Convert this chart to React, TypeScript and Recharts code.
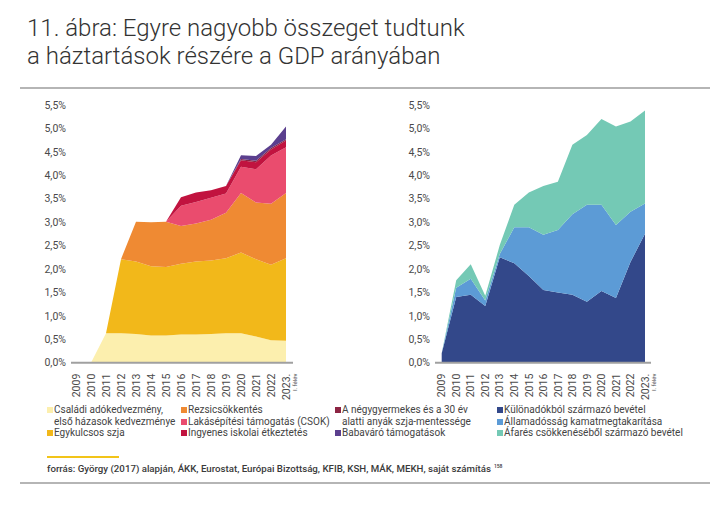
import React from 'react';
import { AreaChart, Area, XAxis, YAxis } from 'recharts';

const years = ['2009', '2010', '2011', '2012', '2013', '2014', '2015', '2016', '2017', '2018', '2019', '2020', '2021', '2022', '2023.'];
const yTicks = [0, 0.5, 1, 1.5, 2, 2.5, 3, 3.5, 4, 4.5, 5, 5.5];

// Left chart series (% of GDP)
const csaladi = [0, 0, 0.63, 0.63, 0.61, 0.58, 0.58, 0.6, 0.6, 0.61, 0.63, 0.63, 0.56, 0.48, 0.47];
const egykulcsos = [0, 0, 0, 1.58, 1.55, 1.48, 1.46, 1.51, 1.56, 1.57, 1.6, 1.72, 1.65, 1.61, 1.76];
const rezsi = [0, 0, 0, 0, 0.85, 0.94, 0.97, 0.81, 0.81, 0.87, 0.97, 1.27, 1.21, 1.3, 1.39];
const csok = [0, 0, 0, 0, 0, 0, 0, 0.43, 0.46, 0.47, 0.41, 0.56, 0.71, 1.03, 0.98];
const etkeztetes = [0, 0, 0, 0, 0, 0, 0, 0.18, 0.2, 0.16, 0.16, 0.14, 0.15, 0.13, 0.14];
const negygyermek = [0, 0, 0, 0, 0, 0, 0, 0, 0, 0, 0, 0.03, 0.03, 0.03, 0.03];
const babavaro = [0, 0, 0, 0, 0, 0, 0, 0, 0, 0, 0, 0.08, 0.1, 0.07, 0.27];

// Right chart series (% of GDP)
const kulonado = [0.2, 1.4, 1.45, 1.21, 2.25, 2.12, 1.85, 1.55, 1.5, 1.45, 1.3, 1.53, 1.38, 2.15, 2.75];
const allamadossag = [0, 0.2, 0.34, 0.12, 0.07, 0.77, 1.04, 1.18, 1.33, 1.72, 2.07, 1.84, 1.56, 1.07, 0.65];
const afa = [0, 0.16, 0.31, 0.1, 0.19, 0.48, 0.74, 1.04, 1.03, 1.48, 1.49, 1.83, 2.1, 1.93, 1.98];

const C = {
  csaladi: '#FCEFAE',
  egykulcsos: '#F2B81A',
  rezsi: '#EF8A33',
  csok: '#EA4C6E',
  etkeztetes: '#C1133F',
  negygyermek: '#8C2443',
  babavaro: '#5B3F8E',
  kulonado: '#33488A',
  allamadossag: '#5C9BD6',
  afa: '#74C9B5',
};

const leftData = years.map((y, i) => ({
  year: y,
  csaladi: csaladi[i],
  egykulcsos: egykulcsos[i],
  rezsi: rezsi[i],
  csok: csok[i],
  etkeztetes: etkeztetes[i],
  negygyermek: negygyermek[i],
  babavaro: babavaro[i],
}));

const rightData = years.map((y, i) => ({
  year: y,
  kulonado: kulonado[i],
  allamadossag: allamadossag[i],
  afa: afa[i],
}));

const FONT = 'Roboto, "DejaVu Sans", sans-serif';
const fmt = (v: number) => v.toFixed(1).replace('.', ',') + '%';

const XTick = (props: any) => {
  const { x, y, payload } = props;
  const isLast = payload.value === '2023.';
  return (
    <g transform={`translate(${x},${y})`}>
      <text transform="rotate(-90)" x={-3} y={0} dy={3.7} textAnchor="end" fontSize={10.5} fill="#4a4a4a" fontFamily={FONT}>
        {payload.value}
      </text>
      {isLast && (
        <text transform="rotate(-90)" x={-3} y={8} dy={3} textAnchor="end" fontSize={6} fill="#4a4a4a" fontFamily={FONT}>
          I. félév
        </text>
      )}
    </g>
  );
};

const yAxisProps = {
  type: 'number' as const,
  domain: [0, 5.5],
  ticks: yTicks,
  tickFormatter: fmt,
  axisLine: false,
  tickLine: false,
  tickSize: 0,
  tickMargin: 5,
  width: 30,
  interval: 0 as const,
  tick: { fontSize: 10.5, fill: '#4a4a4a', fontFamily: FONT },
};

const LegendItem = ({ x, y, color, lines }: { x: number; y: number; color?: string; lines: string[] }) => (
  <div style={{ position: 'absolute', left: x, top: y, fontFamily: FONT, fontSize: 10, color: '#444', lineHeight: '11.7px', whiteSpace: 'nowrap' }}>
    {lines.map((l, i) => (
      <div key={i} style={{ position: 'relative', paddingLeft: 7 }}>
        {i === 0 && color && (
          <span style={{ position: 'absolute', left: 0, top: 3, width: 6, height: 6, background: color }} />
        )}
        {l}
      </div>
    ))}
  </div>
);

export default function App() {
  return (
    <div style={{ position: 'absolute', left: 0, top: 0, width: 727, height: 512, background: '#fff', overflow: 'hidden' }}>
      <div style={{ position: 'absolute', left: 27, top: 14, fontFamily: FONT, fontSize: 24, color: '#333', lineHeight: '28px', fontWeight: 300 }}>
        <div>11. ábra: Egyre nagyobb összeget tudtunk</div>
        <div>a háztartások részére a GDP arányában</div>
      </div>
      <div style={{ position: 'absolute', left: 20, top: 87, width: 690, height: 2, background: '#b5b5b5' }} />

      <div style={{ position: 'absolute', left: 0, top: 0 }}>
        <AreaChart width={300} height={400} data={leftData} margin={{ top: 105, right: 7, bottom: 0, left: 41 }}>
          <XAxis
            dataKey="year"
            type="category"
            interval={0}
            padding={{ left: 5, right: 7 }}
            axisLine={{ stroke: '#a0a0a0', strokeWidth: 2 }}
            tickLine={false}
            height={37.3}
            tick={<XTick />}
          />
          <YAxis {...yAxisProps} />
          <Area type="linear" dataKey="csaladi" stackId="a" fill={C.csaladi} stroke="none" fillOpacity={1} isAnimationActive={false} />
          <Area type="linear" dataKey="egykulcsos" stackId="a" fill={C.egykulcsos} stroke="none" fillOpacity={1} isAnimationActive={false} />
          <Area type="linear" dataKey="rezsi" stackId="a" fill={C.rezsi} stroke="none" fillOpacity={1} isAnimationActive={false} />
          <Area type="linear" dataKey="csok" stackId="a" fill={C.csok} stroke="none" fillOpacity={1} isAnimationActive={false} />
          <Area type="linear" dataKey="etkeztetes" stackId="a" fill={C.etkeztetes} stroke="none" fillOpacity={1} isAnimationActive={false} />
          <Area type="linear" dataKey="negygyermek" stackId="a" fill={C.negygyermek} stroke="none" fillOpacity={1} isAnimationActive={false} />
          <Area type="linear" dataKey="babavaro" stackId="a" fill={C.babavaro} stroke="none" fillOpacity={1} isAnimationActive={false} />
        </AreaChart>
      </div>

      <div style={{ position: 'absolute', left: 360, top: 0 }}>
        <AreaChart width={300} height={400} data={rightData} margin={{ top: 105, right: 9, bottom: 0, left: 45 }}>
          <XAxis
            dataKey="year"
            type="category"
            interval={0}
            padding={{ left: 6.7, right: 6 }}
            axisLine={{ stroke: '#a0a0a0', strokeWidth: 2 }}
            tickLine={false}
            height={37.3}
            tick={<XTick />}
          />
          <YAxis {...yAxisProps} />
          <Area type="linear" dataKey="kulonado" stackId="b" fill={C.kulonado} stroke="none" fillOpacity={1} isAnimationActive={false} />
          <Area type="linear" dataKey="allamadossag" stackId="b" fill={C.allamadossag} stroke="none" fillOpacity={1} isAnimationActive={false} />
          <Area type="linear" dataKey="afa" stackId="b" fill={C.afa} stroke="none" fillOpacity={1} isAnimationActive={false} />
        </AreaChart>
      </div>

      <LegendItem x={47} y={404} color={C.csaladi} lines={['Családi adókedvezmény,', 'első házasok kedvezménye']} />
      <LegendItem x={47} y={427.4} color={C.egykulcsos} lines={['Egykulcsos szja']} />
      <LegendItem x={181} y={404} color={C.rezsi} lines={['Rezsicsökkentés']} />
      <LegendItem x={181} y={415.7} color={C.csok} lines={['Lakásépítési támogatás (CSOK)']} />
      <LegendItem x={181} y={427.4} color={C.etkeztetes} lines={['Ingyenes iskolai étkeztetés']} />
      <LegendItem x={335} y={404} color={C.negygyermek} lines={['A négygyermekes és a 30 év', 'alatti anyák szja-mentessége']} />
      <LegendItem x={335} y={427.4} color={C.babavaro} lines={['Babaváró támogatások']} />
      <LegendItem x={497} y={404} color={C.kulonado} lines={['Különadókból származó bevétel']} />
      <LegendItem x={497} y={415.7} color={C.allamadossag} lines={['Államadósság kamatmegtakarítása']} />
      <LegendItem x={497} y={427.4} color={C.afa} lines={['Áfarés csökkenéséből származó bevétel']} />

      <div style={{ position: 'absolute', left: 47, top: 456, width: 72, height: 2, background: '#F2C419' }} />
      <div style={{ position: 'absolute', left: 47, top: 463, fontFamily: FONT, fontSize: 9.7, color: '#3a3a3a', fontWeight: 500, whiteSpace: 'nowrap' }}>
        forrás: György (2017) alapján, ÁKK, Eurostat, Európai Bizottság, KFIB, KSH, MÁK, MEKH, saját számítás
        <sup style={{ fontSize: 5, marginLeft: 3, verticalAlign: 'top' }}>158</sup>
      </div>
      <div style={{ position: 'absolute', left: 20, top: 482, width: 690, height: 2, background: '#b5b5b5' }} />
    </div>
  );
}
